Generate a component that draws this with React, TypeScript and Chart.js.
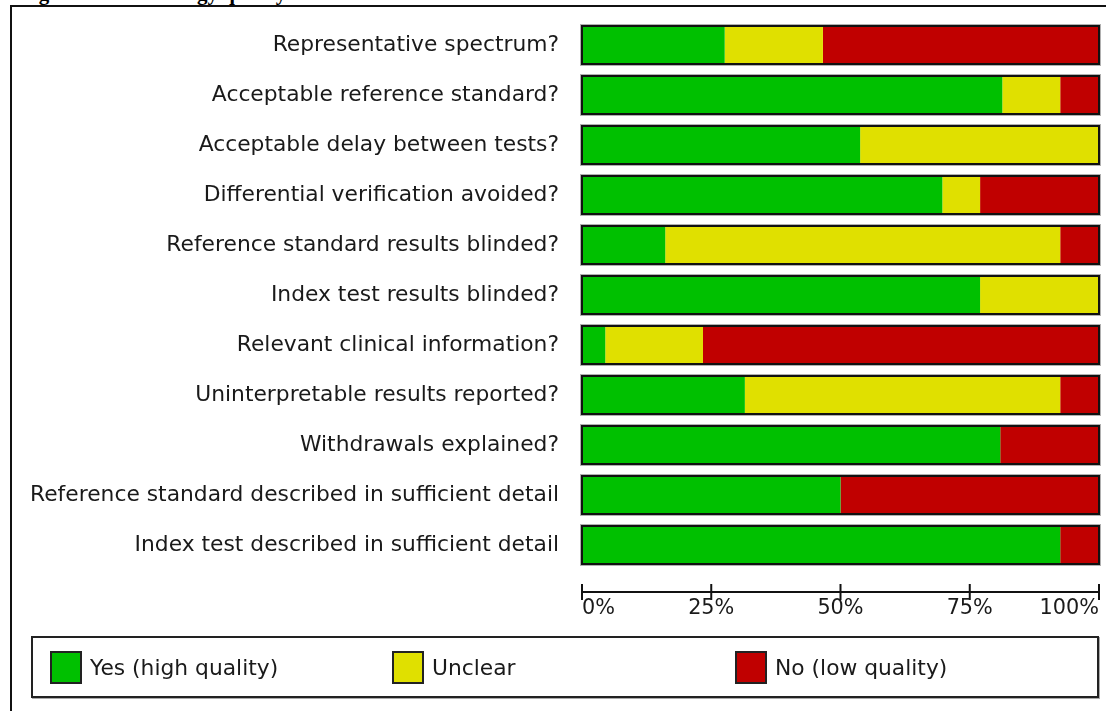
import React, { useEffect, useRef } from "react";
import { Chart, registerables } from "chart.js";

Chart.register(...registerables);

const categories = [
  "Representative spectrum?",
  "Acceptable reference standard?",
  "Acceptable delay between tests?",
  "Differential verification avoided?",
  "Reference standard results blinded?",
  "Index test results blinded?",
  "Relevant clinical information?",
  "Uninterpretable results reported?",
  "Withdrawals explained?",
  "Reference standard described in sufficient detail",
  "Index test described in sufficient detail",
];
const yesValues = [27.6, 81.3, 53.8, 69.7, 16.1, 77.0, 4.5, 31.5, 80.9, 50.0, 92.5];
const unclearValues = [19.0, 11.2, 46.2, 7.3, 76.4, 23.0, 18.9, 61.0, 0, 0, 0];
const noValues = [53.4, 7.5, 0, 23.0, 7.5, 0, 76.6, 7.5, 19.1, 50.0, 7.5];
const tickValues = [0, 25, 50, 75, 100];
const tickLabels = ["0%", "25%", "50%", "75%", "100%"];
const seriesLabels = ["Yes (high quality)", "Unclear", "No (low quality)"];
const seriesColors = ["#00C000", "#E0E000", "#C00000"];
const titleText = "Figure 2 Methodology quality";

const FONT = "'DejaVu Sans', sans-serif";

const barOutline = {
  id: "barOutline",
  afterDatasetsDraw(chart: any) {
    const ctx = chart.ctx;
    const xs = chart.scales.x;
    const ys = chart.scales.y;
    const meta = chart.getDatasetMeta(0);
    const x0 = xs.getPixelForValue(0);
    const x1 = xs.getPixelForValue(100);
    ctx.save();
    categories.forEach((_, i) => {
      const el = meta.data[i];
      const h = el ? el.height : 38;
      const yc = ys.getPixelForValue(i);
      const top = yc - h / 2;
      ctx.strokeStyle = "#b0b0b0";
      ctx.lineWidth = 1;
      ctx.strokeRect(x0 - 1.5, top - 1.5, x1 - x0 + 3, h + 3);
      ctx.strokeStyle = "#111";
      ctx.lineWidth = 2;
      ctx.strokeRect(x0, top, x1 - x0, h);
    });
    ctx.restore();
  },
};

const bottomAxis = {
  id: "bottomAxis",
  afterDraw(chart: any) {
    const ctx = chart.ctx;
    const xs = chart.scales.x;
    const yLine = chart.chartArea.bottom + 22;
    const x0 = xs.getPixelForValue(0);
    const x1 = xs.getPixelForValue(100);
    ctx.save();
    ctx.strokeStyle = "#111";
    ctx.lineWidth = 2;
    ctx.beginPath();
    ctx.moveTo(x0 - 1, yLine);
    ctx.lineTo(x1 + 1, yLine);
    ctx.stroke();
    ctx.font = `20.8px ${FONT}`;
    ctx.fillStyle = "#1a1a1a";
    ctx.textBaseline = "middle";
    tickValues.forEach((v, i) => {
      const px = xs.getPixelForValue(v);
      ctx.beginPath();
      ctx.moveTo(px, yLine - 8);
      ctx.lineTo(px, yLine + 8);
      ctx.stroke();
      ctx.textAlign = i === 0 ? "left" : i === tickValues.length - 1 ? "right" : "center";
      ctx.fillText(tickLabels[i], px, yLine + 17);
    });
    ctx.restore();
  },
};

export default function App() {
  const canvasRef = useRef<HTMLCanvasElement | null>(null);

  useEffect(() => {
    const canvas = canvasRef.current;
    if (!canvas) return;
    const values = [yesValues, unclearValues, noValues];
    const chart = new Chart(canvas, {
      type: "bar",
      data: {
        labels: categories,
        datasets: values.map((data, i) => ({
          label: seriesLabels[i],
          data,
          backgroundColor: seriesColors[i],
          borderWidth: 0,
          borderSkipped: false,
          barPercentage: 1,
          categoryPercentage: 0.76,
        })),
      },
      options: {
        indexAxis: "y",
        responsive: false,
        animation: false,
        devicePixelRatio: 1,
        layout: { padding: { left: 0, top: 20, right: 7, bottom: 141 } },
        plugins: {
          legend: { display: false },
          tooltip: { enabled: false },
          title: { display: false },
        },
        scales: {
          x: { stacked: true, min: 0, max: 100, display: false },
          y: {
            stacked: true,
            grid: { display: false, drawTicks: false },
            border: { display: false },
            ticks: {
              font: { family: FONT, size: 21.8 },
              color: "#1a1a1a",
              padding: 23,
            },
            afterFit(scale: any) {
              scale.width = 582;
              scale.paddingTop = 0;
              scale.paddingBottom = 0;
            },
          },
        },
      } as any,
      plugins: [barOutline, bottomAxis],
    });
    return () => chart.destroy();
  }, []);

  const legendItems = [
    { sx: 50, tx: 90 },
    { sx: 392, tx: 432 },
    { sx: 735, tx: 775 },
  ];

  return (
    <div
      style={{
        position: "absolute",
        left: 0,
        top: 0,
        width: 1106,
        height: 711,
        overflow: "hidden",
        background: "#fff",
      }}
    >
      <div
        style={{
          position: "absolute",
          left: 20,
          top: -18,
          fontFamily: "'Liberation Serif', serif",
          fontWeight: "bold",
          fontSize: 21,
          lineHeight: "22px",
          whiteSpace: "nowrap",
          color: "#000",
        }}
      >
        {titleText}
      </div>
      <div
        style={{
          position: "absolute",
          left: 10,
          top: 5,
          width: 1200,
          height: 800,
          border: "2px solid #111",
        }}
      />
      <canvas
        ref={canvasRef}
        width={1106}
        height={711}
        style={{ position: "absolute", left: 0, top: 0, width: 1106, height: 711, display: "block" }}
      />
      <div
        style={{
          position: "absolute",
          left: 31,
          top: 636,
          width: 1068,
          height: 62,
          boxSizing: "border-box",
          border: "2px solid #222",
          boxShadow: "1px 1px 0 #aaa",
        }}
      />
      {legendItems.map((it, i) => (
        <React.Fragment key={i}>
          <div
            style={{
              position: "absolute",
              left: it.sx,
              top: 651,
              width: 32,
              height: 33,
              boxSizing: "border-box",
              border: "2px solid #222",
              background: seriesColors[i],
            }}
          />
          <div
            style={{
              position: "absolute",
              left: it.tx,
              top: 655,
              fontFamily: FONT,
              fontSize: 21.8,
              lineHeight: "26px",
              color: "#1a1a1a",
              whiteSpace: "nowrap",
            }}
          >
            {seriesLabels[i]}
          </div>
        </React.Fragment>
      ))}
    </div>
  );
}
